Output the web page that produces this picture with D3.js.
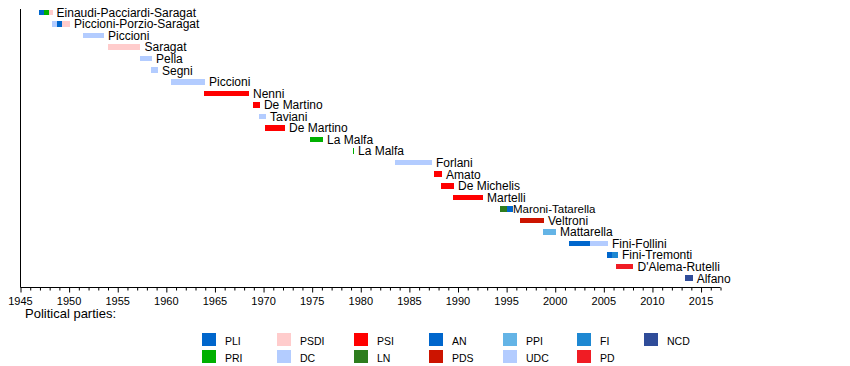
<!DOCTYPE html>
<html>
<head>
<meta charset="utf-8">
<script src="https://cdn.jsdelivr.net/npm/d3@7"></script>
<style>
  html, body { margin: 0; padding: 0; background: #fff; }
  svg { display: block; font-family: "Liberation Sans", Arial, Helvetica, sans-serif; }
</style>
</head>
<body>
<svg id="chart" width="850" height="366"></svg>
<script>
// ---- data ----
const rowLabels = [
  "Einaudi-Pacciardi-Saragat", "Piccioni-Porzio-Saragat", "Piccioni", "Saragat", "Pella",
  "Segni", "Piccioni", "Nenni", "De Martino", "Taviani", "De Martino", "La Malfa",
  "La Malfa", "Forlani", "Amato", "De Michelis", "Martelli", "Maroni-Tatarella",
  "Veltroni", "Mattarella", "Fini-Follini", "Fini-Tremonti", "D'Alema-Rutelli", "Alfano"
];
const segRow   = [0, 0, 0, 1, 1, 1, 2, 3, 4, 5, 6, 7, 8, 9, 10, 11, 12, 13, 14, 15, 16, 17, 17, 18, 19, 20, 20, 21, 21, 22, 23];
const segFrom  = [1946.90, 1947.42, 1947.93, 1948.24, 1948.75, 1949.30, 1951.43, 1954.00, 1957.29, 1958.42, 1960.48, 1963.87, 1968.91, 1969.53, 1970.15, 1974.78, 1979.20, 1983.52, 1987.53, 1988.25, 1989.49, 1994.32, 1995.04, 1996.38, 1998.75, 2001.42, 2003.58, 2005.33, 2005.86, 2006.25, 2013.32];
const segTo    = [1947.42, 1947.93, 1948.30, 1948.75, 1949.30, 1950.09, 1953.59, 1957.34, 1958.53, 1959.14, 1963.98, 1968.50, 1969.63, 1970.25, 1972.21, 1976.12, 1979.30, 1987.33, 1988.36, 1989.59, 1992.57, 1995.04, 1995.66, 1998.85, 2000.08, 2003.58, 2005.43, 2005.86, 2006.46, 2008.05, 2014.14];
const segParty = ["PLI", "PRI", "PSDI", "DC", "PLI", "PSDI", "DC", "PSDI", "DC", "DC", "DC", "PSI", "PSI", "DC", "PSI", "PRI", "PRI", "DC", "PSI", "PSI", "PSI", "LN", "AN", "PDS", "PPI", "AN", "UDC", "AN", "FI", "PD", "NCD"];
const partyNames  = ["PLI", "PRI", "PSDI", "DC", "PSI", "LN", "AN", "PDS", "PPI", "UDC", "FI", "PD", "NCD"];
const partyColors = ["#0066cc", "#00b000", "#ffcccc", "#b3ccff", "#ff0000", "#2e7d1e", "#0066cc", "#cc1400", "#64b4e6", "#b3ccff", "#1e88d2", "#f01c24", "#2f4c99"];
const yearTicks = [1945, 1950, 1955, 1960, 1965, 1970, 1975, 1980, 1985, 1990, 1995, 2000, 2005, 2010, 2015];
const legendTitle = "Political parties:";

// ---- layout ----
const svg = d3.select("#chart");
const x = d3.scaleLinear().domain([1945, 2017]).range([20.5, 720.5]);
const y = d3.scaleBand().domain(d3.range(rowLabels.length)).range([6.7, 284]).paddingInner(0.52).paddingOuter(0.26);
const color = d3.scaleOrdinal().domain(partyNames).range(partyColors);

// bars
const segs = segRow.map((r, i) => ({ row: r, from: segFrom[i], to: segTo[i], party: segParty[i] }));
svg.append("g").selectAll("rect").data(segs).join("rect")
  .attr("x", d => x(d.from))
  .attr("width", d => Math.max(1, x(d.to) - x(d.from)))
  .attr("y", d => y(d.row))
  .attr("height", y.bandwidth())
  .attr("fill", d => color(d.party))
  .attr("shape-rendering", "crispEdges");

// labels
const rowEnd = rowLabels.map((_, r) => d3.max(segs.filter(s => s.row === r), s => x(s.to)));
svg.append("g").selectAll("text").data(rowLabels).join("text")
  .attr("x", (d, i) => rowEnd[i] + (d === "Maroni-Tatarella" ? 0 : 4))
  .attr("y", (d, i) => y(i) + y.bandwidth() / 2 + 4.3)
  .attr("font-size", d => d === "Maroni-Tatarella" ? 11.5 : 12)
  .attr("fill", "#000")
  .text(d => d);

// left vertical line
svg.append("line").attr("x1", 20.5).attr("x2", 20.5).attr("y1", 9).attr("y2", 287.5)
  .attr("stroke", "#000").attr("stroke-width", 1);

// bottom axis
const axisG = svg.append("g").attr("transform", "translate(0,287.5)");
axisG.call(d3.axisBottom(x).tickValues(d3.range(1945, 2018, 1)).tickSize(3).tickFormat(""));
axisG.selectAll(".domain").attr("d", `M${x(1945)},0H${x(2017)}`).attr("stroke", "#000");
axisG.selectAll(".tick line").attr("stroke", "#000")
  .attr("y2", d => yearTicks.includes(d) ? 5 : 3);
svg.append("g").selectAll("text").data(yearTicks).join("text")
  .attr("x", d => x(d)).attr("y", 305)
  .attr("text-anchor", "middle").attr("font-size", 11).attr("fill", "#000")
  .text(d => d);

// legend
svg.append("text").attr("x", 25).attr("y", 318).attr("font-size", 13).attr("fill", "#000").text(legendTitle);
const legendColX = [202, 277, 354, 429, 503, 577, 644];
const lg = svg.append("g").selectAll("g").data(partyNames).join("g")
  .attr("transform", (d, i) => `translate(${legendColX[Math.floor(i / 2)]},${333 + (i % 2) * 17})`);
lg.append("rect").attr("width", 14).attr("height", 13).attr("fill", d => color(d));
lg.append("text").attr("x", 23).attr("y", 12).attr("font-size", 10.5).attr("fill", "#000").text(d => d);
</script>
</body>
</html>
